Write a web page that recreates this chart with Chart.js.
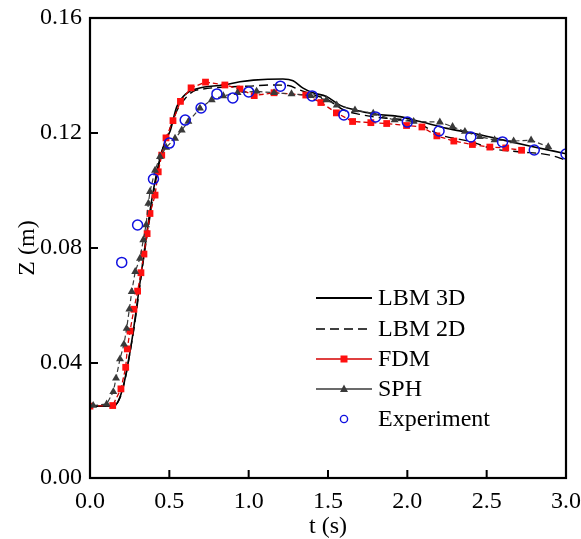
<!DOCTYPE html>
<html>
<head>
<meta charset="utf-8">
<script src="https://cdn.jsdelivr.net/npm/chart.js@4.4.1/dist/chart.umd.min.js"></script>
<style>
html,body{margin:0;padding:0;background:#fff;}
#wrap{width:581px;height:539px;}
</style>
</head>
<body>
<div id="wrap"><canvas id="c" width="581" height="539"></canvas></div>
<script>
// ---- Data ----
const xTicks = [0.0, 0.5, 1.0, 1.5, 2.0, 2.5, 3.0];
const yTicks = [0.00, 0.04, 0.08, 0.12, 0.16];
const seriesNames = ["LBM 3D", "LBM 2D", "FDM", "SPH", "Experiment"];

const tLBM3D = [0, 0.15, 0.18, 0.21, 0.24, 0.27, 0.30, 0.33, 0.36, 0.39, 0.42, 0.45, 0.48, 0.504, 0.546, 0.609, 0.68, 0.84, 0.945, 1.03, 1.216, 1.28, 1.34, 1.405, 1.49, 1.575, 1.657, 1.806, 1.953, 2.08, 2.25, 2.415, 2.60, 2.77, 3.0];
const zLBM3D = [0.025, 0.025, 0.027, 0.032, 0.040, 0.050, 0.062, 0.074, 0.086, 0.097, 0.106, 0.113, 0.118, 0.1205, 0.129, 0.1338, 0.1355, 0.1367, 0.1378, 0.1384, 0.1388, 0.1382, 0.1357, 0.134, 0.1327, 0.1297, 0.1282, 0.1265, 0.1257, 0.124, 0.1216, 0.1199, 0.1176, 0.1155, 0.1128];

const tLBM2D = [0, 0.15, 0.19, 0.22, 0.25, 0.28, 0.31, 0.34, 0.37, 0.40, 0.43, 0.46, 0.50, 0.55, 0.60, 0.65, 0.70, 0.85, 1.00, 1.15, 1.25, 1.32, 1.40, 1.50, 1.60, 1.70, 1.80, 1.90, 2.00, 2.10, 2.20, 2.40, 2.54, 2.70, 2.90, 3.00];
const zLBM2D = [0.025, 0.025, 0.028, 0.034, 0.043, 0.053, 0.065, 0.077, 0.088, 0.099, 0.108, 0.115, 0.121, 0.128, 0.132, 0.1345, 0.1352, 0.136, 0.1363, 0.1367, 0.1365, 0.135, 0.1335, 0.1315, 0.128, 0.1265, 0.1255, 0.125, 0.1245, 0.1225, 0.1195, 0.117, 0.1145, 0.1135, 0.1123, 0.1105];

const tFDM = [0.00, 0.143, 0.195, 0.225, 0.235, 0.252, 0.277, 0.300, 0.321, 0.340, 0.360, 0.378, 0.410, 0.430, 0.452, 0.479, 0.523, 0.570, 0.637, 0.728, 0.850, 0.945, 1.035, 1.160, 1.360, 1.455, 1.553, 1.655, 1.770, 1.870, 1.995, 2.092, 2.186, 2.293, 2.410, 2.520, 2.620, 2.720];
const zFDM = [0.0250, 0.0252, 0.0310, 0.0385, 0.0449, 0.0511, 0.0587, 0.0650, 0.0714, 0.0779, 0.0850, 0.0920, 0.0984, 0.1065, 0.1123, 0.1183, 0.1243, 0.1310, 0.1357, 0.1377, 0.1367, 0.1353, 0.1330, 0.1340, 0.1332, 0.1306, 0.1270, 0.1240, 0.1236, 0.1233, 0.1226, 0.1221, 0.1190, 0.1172, 0.1160, 0.1151, 0.1148, 0.1140];

const tSPH = [0.02, 0.105, 0.147, 0.164, 0.189, 0.214, 0.231, 0.248, 0.263, 0.285, 0.315, 0.336, 0.353, 0.368, 0.378, 0.410, 0.441, 0.480, 0.536, 0.578, 0.620, 0.693, 0.767, 0.840, 0.930, 1.050, 1.160, 1.270, 1.390, 1.490, 1.555, 1.670, 1.785, 1.920, 2.040, 2.205, 2.285, 2.363, 2.457, 2.550, 2.670, 2.780, 2.888];
const zSPH = [0.0252, 0.0257, 0.0300, 0.0347, 0.0414, 0.0465, 0.0520, 0.0587, 0.0648, 0.0718, 0.0764, 0.0828, 0.0880, 0.0955, 0.0996, 0.1070, 0.1118, 0.1150, 0.1181, 0.1210, 0.1240, 0.1286, 0.1315, 0.1329, 0.1340, 0.1345, 0.1340, 0.1336, 0.1330, 0.1315, 0.1297, 0.1280, 0.1268, 0.1245, 0.1240, 0.1238, 0.1222, 0.1205, 0.1187, 0.1176, 0.1172, 0.1175, 0.1152];

const tExp = [0.2, 0.3, 0.4, 0.5, 0.6, 0.7, 0.8, 0.9, 1.0, 1.2, 1.4, 1.6, 1.8, 2.0, 2.2, 2.4, 2.6, 2.8, 3.0];
const zExp = [0.075, 0.088, 0.104, 0.1165, 0.1245, 0.1287, 0.1336, 0.1322, 0.1343, 0.1363, 0.1329, 0.1263, 0.1256, 0.1238, 0.1207, 0.1186, 0.1169, 0.1141, 0.1127];

// ---- helpers ----
const pts = (t, z) => t.map((v, i) => ({x: v, y: z[i]}));
const SERIF = '"Liberation Serif", "Times New Roman", "DejaVu Serif", serif';

const styles = {
  "LBM 3D": {color: '#000000', marker: null},
  "LBM 2D": {color: '#000000', marker: null},
  "FDM": {color: '#d40000', marker: 'rect', mcolor: '#ff1010'},
  "SPH": {color: '#3a3a3a', marker: 'triangle', mcolor: '#3a3a3a'},
  "Experiment": {color: '#1010e0', marker: 'circle'}
};

const datasets = [
  {label: seriesNames[0], data: pts(tLBM3D, zLBM3D), borderColor: '#000', borderWidth: 1.6, pointRadius: 0, cubicInterpolationMode: 'monotone', order: 3},
  {label: seriesNames[1], data: pts(tLBM2D, zLBM2D), borderColor: '#000', borderWidth: 1.4, borderDash: [9, 5], pointRadius: 0, cubicInterpolationMode: 'monotone', order: 4},
  {label: seriesNames[2], data: pts(tFDM, zFDM), borderColor: styles.FDM.color, borderWidth: 1.3, borderDash: [5, 3], pointStyle: 'rect', pointRadius: 4.8, pointBackgroundColor: '#ff1010', pointBorderColor: '#ff1010', pointBorderWidth: 0, order: 2},
  {label: seriesNames[3], data: pts(tSPH, zSPH), borderColor: styles.SPH.color, borderWidth: 1.2, borderDash: [5, 3], pointStyle: 'triangle', pointRadius: 4.6, pointBackgroundColor: '#3a3a3a', pointBorderColor: '#3a3a3a', pointBorderWidth: 0, order: 1},
  {label: seriesNames[4], data: pts(tExp, zExp), showLine: false, borderColor: '#1010e0', pointStyle: 'circle', pointRadius: 5, pointBorderWidth: 1.5, pointBorderColor: '#1010e0', pointBackgroundColor: 'rgba(0,0,0,0)', order: 0}
];

const framePlugin = {
  id: 'frame',
  afterDraw(chart) {
    const {ctx, chartArea: a, scales} = chart;
    ctx.save();
    ctx.strokeStyle = '#000';
    ctx.lineWidth = 2.2;
    ctx.strokeRect(a.left, a.top, a.right - a.left, a.bottom - a.top);
    // inward ticks
    ctx.lineWidth = 2;
    ctx.beginPath();
    xTicks.forEach(v => {
      if (v === xTicks[0] || v === xTicks[xTicks.length - 1]) return;
      const px = scales.x.getPixelForValue(v);
      ctx.moveTo(px, a.bottom); ctx.lineTo(px, a.bottom - 8);
    });
    yTicks.forEach(v => {
      if (v === yTicks[0] || v === yTicks[yTicks.length - 1]) return;
      const py = scales.y.getPixelForValue(v);
      ctx.moveTo(a.left, py); ctx.lineTo(a.left + 8, py);
    });
    ctx.stroke();

    // legend inside plot
    const lx0 = 316, lx1 = 372, tx = 378;
    const rows = [298, 329, 359, 389, 419];
    ctx.font = '24px ' + SERIF;
    ctx.textBaseline = 'middle';
    ctx.textAlign = 'left';
    seriesNames.forEach((name, i) => {
      const y = rows[i];
      const s = styles[name];
      const mx = (lx0 + lx1) / 2;
      if (name !== 'Experiment') {
        ctx.beginPath();
        ctx.setLineDash(name === 'LBM 2D' ? [9, 5] : []);
        ctx.strokeStyle = s.color;
        ctx.lineWidth = name === 'LBM 3D' ? 1.8 : 1.5;
        ctx.moveTo(lx0, y); ctx.lineTo(lx1, y);
        ctx.stroke();
        ctx.setLineDash([]);
      }
      if (s.marker === 'rect') {
        ctx.fillStyle = s.mcolor;
        ctx.fillRect(mx - 3.5, y - 3.5, 7, 7);
      } else if (s.marker === 'triangle') {
        ctx.fillStyle = s.mcolor;
        ctx.beginPath();
        ctx.moveTo(mx, y - 4.5); ctx.lineTo(mx + 4, y + 3); ctx.lineTo(mx - 4, y + 3);
        ctx.closePath(); ctx.fill();
      } else if (s.marker === 'circle') {
        ctx.strokeStyle = s.color; ctx.lineWidth = 1.4;
        ctx.beginPath(); ctx.arc(mx, y, 3.6, 0, Math.PI * 2); ctx.stroke();
      }
      ctx.fillStyle = '#000';
      ctx.fillText(name, tx, y + 1);
    });
    ctx.restore();
  }
};

new Chart(document.getElementById('c'), {
  type: 'line',
  data: {datasets},
  plugins: [framePlugin],
  options: {
    responsive: false,
    animation: false,
    layout: {padding: {top: 18, right: 15, left: 0, bottom: 0}, autoPadding: false},
    plugins: {legend: {display: false}, tooltip: {enabled: false}},
    scales: {
      x: {
        type: 'linear', min: 0, max: 3,
        afterFit(s) { s.height = 61; s.paddingLeft = 0; s.paddingRight = 0; },
        afterBuildTicks(s) { s.ticks = xTicks.map(v => ({value: v})); },
        grid: {display: false, drawTicks: false},
        border: {display: false},
        ticks: {color: '#000', padding: 9, font: {family: SERIF, size: 24}, callback: v => Number(v).toFixed(1), maxRotation: 0, autoSkip: false},
        title: {display: true, text: 't (s)', color: '#000', font: {family: SERIF, size: 24, lineHeight: 1}, padding: {top: 0, bottom: 0}}
      },
      y: {
        type: 'linear', min: 0, max: 0.16,
        afterFit(s) { s.width = 90; s.paddingTop = 0; s.paddingBottom = 0; },
        afterBuildTicks(s) { s.ticks = yTicks.map(v => ({value: v})); },
        grid: {display: false, drawTicks: false},
        border: {display: false},
        ticks: {color: '#000', padding: 8, font: {family: SERIF, size: 24}, callback: v => Number(v).toFixed(2), autoSkip: false},
        title: {display: true, text: 'Z (m)', color: '#000', font: {family: SERIF, size: 24, lineHeight: 1}, padding: {top: 16, bottom: 0}}
      }
    }
  }
});
</script>
</body>
</html>
